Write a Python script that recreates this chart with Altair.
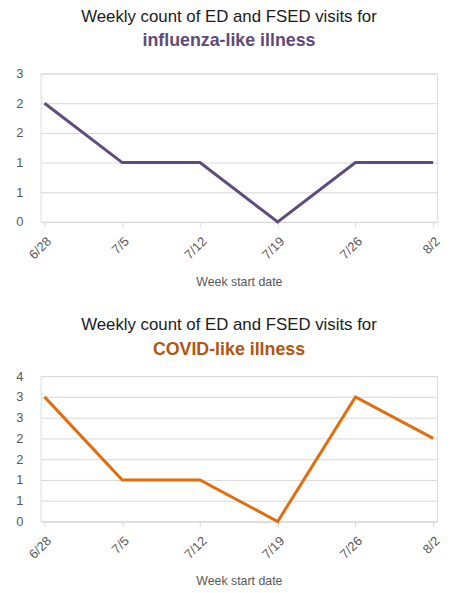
import altair as alt
import pandas as pd

weeks = ["6/28", "7/5", "7/12", "7/19", "7/26", "8/2"]
ili_counts = [2, 1, 1, 0, 1, 1]
cli_counts = [3, 1, 1, 0, 3, 2]
ili_ticks = [0, 0.5, 1, 1.5, 2, 2.5]
cli_ticks = [0, 0.5, 1, 1.5, 2, 2.5, 3, 3.5]

title_text = "Weekly count of ED and FSED visits for"
FONT = "Liberation Sans"


def panel(values, ticks, color, subcolor, subtitle, height, sub_pad, offset):
    df = pd.DataFrame({"week": weeks, "count": values})
    return alt.Chart(
        df,
        title=alt.TitleParams(
            text=title_text,
            subtitle=subtitle,
            font=FONT,
            fontSize=17,
            fontWeight="normal",
            color="#1a1a1a",
            subtitleFont=FONT,
            subtitleFontSize=18,
            subtitleFontWeight="bold",
            subtitleColor=subcolor,
            subtitlePadding=sub_pad,
            anchor="middle",
            frame="bounds",
            offset=offset,
        ),
    ).mark_line(color=color, strokeWidth=3).encode(
        x=alt.X(
            "week:O",
            sort=weeks,
            scale=alt.Scale(type="point", padding=0.05),
            axis=alt.Axis(
                title="Week start date",
                titleFont=FONT,
                titleFontSize=12.5,
                titleFontWeight="normal",
                titleColor="#595959",
                titlePadding=14,
                labelAngle=-45,
                labelFont=FONT,
                labelFontSize=13,
                labelColor="#595959",
                labelPadding=8,
                grid=False,
                domainColor="#d9d9d9",
                tickColor="#d9d9d9",
                tickSize=5,
            ),
        ),
        y=alt.Y(
            "count:Q",
            scale=alt.Scale(domain=[0, ticks[-1]], nice=False, zero=True),
            axis=alt.Axis(
                title=None,
                values=ticks,
                labelExpr="round(datum.value)",
                labelFont=FONT,
                labelFontSize=13,
                labelColor="#595959",
                labelPadding=18,
                domain=False,
                ticks=False,
                grid=True,
                gridColor="#d9d9d9",
            ),
        ),
    ).properties(width=401, height=height)


top = panel(ili_counts, ili_ticks, "#5F4B7F", "#604A7B", "influenza-like illness",
            150, 6, 17)
bottom = panel(cli_counts, cli_ticks, "#E46C0A", "#B3540F", "COVID-like illness",
               147, 8, 10)

chart = alt.vconcat(top, bottom, spacing=26).configure_view(stroke=None).configure(
    padding={"left": 7, "top": -4, "right": 0, "bottom": 0}
)

chart.save("out.html", embed_options={"renderer": "svg", "actions": False})
